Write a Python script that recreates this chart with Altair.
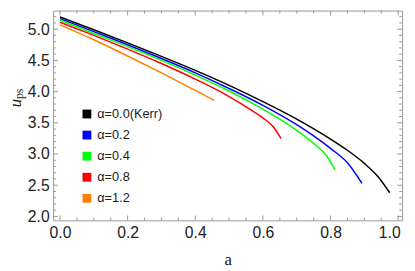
import altair as alt
import pandas as pd

labels = ["α=0.0(Kerr)", "α=0.2", "α=0.4", "α=0.8", "α=1.2"]
colors = ["#000000", "#0000ff", "#00ff00", "#ff0000", "#ff8000"]

a_00 = [0.0, 0.1, 0.2, 0.3, 0.4, 0.5, 0.6, 0.7, 0.8, 0.85, 0.9, 0.94, 0.975]
u_00 = [5.196, 4.99, 4.78, 4.565, 4.34, 4.10, 3.84, 3.56, 3.24, 3.06, 2.85, 2.64, 2.38]

a_02 = [0.0, 0.1, 0.2, 0.3, 0.4, 0.5, 0.6, 0.7, 0.75, 0.8, 0.85, 0.893]
u_02 = [5.17, 4.96, 4.75, 4.53, 4.30, 4.05, 3.78, 3.47, 3.29, 3.09, 2.86, 2.53]

a_04 = [0.0, 0.1, 0.2, 0.3, 0.4, 0.5, 0.6, 0.65, 0.7, 0.75, 0.79, 0.813]
u_04 = [5.145, 4.93, 4.72, 4.50, 4.265, 4.01, 3.72, 3.56, 3.38, 3.17, 2.96, 2.75]

a_08 = [0.0, 0.1, 0.2, 0.3, 0.4, 0.47, 0.5, 0.567, 0.6, 0.63, 0.654]
u_08 = [5.11, 4.90, 4.68, 4.45, 4.20, 4.01, 3.92, 3.70, 3.58, 3.44, 3.245]

a_12 = [0.0, 0.1, 0.2, 0.3, 0.4, 0.456]
u_12 = [5.07, 4.83, 4.57, 4.30, 4.02, 3.86]

x_major = [0.0, 0.2, 0.4, 0.6, 0.8, 1.0]
x_minor = [0.05, 0.1, 0.15, 0.25, 0.3, 0.35, 0.45, 0.5,
           0.55, 0.65, 0.7, 0.75, 0.85, 0.9, 0.95]
y_major = [2.0, 2.5, 3.0, 3.5, 4.0, 4.5, 5.0]
y_minor = [2.1, 2.2, 2.3, 2.4, 2.6, 2.7, 2.8, 2.9, 3.1, 3.2,
           3.3, 3.4, 3.6, 3.7, 3.8, 3.9, 4.1, 4.2, 4.3, 4.4,
           4.6, 4.7, 4.8, 4.9, 5.1, 5.2]

series = [(labels[0], a_00, u_00), (labels[1], a_02, u_02), (labels[2], a_04, u_04),
          (labels[3], a_08, u_08), (labels[4], a_12, u_12)]
rows = []
for lab, aa, uu in series:
    for i, (a, u) in enumerate(zip(aa, uu)):
        rows.append({"label": lab, "a": a, "u": u, "i": i})
df = pd.DataFrame(rows)

W, H = 356, 214
xs = alt.Scale(domain=[-0.0203, 1.0116], nice=False, zero=False)
ys = alt.Scale(domain=[1.937, 5.298], nice=False, zero=False)
cs = alt.Scale(domain=labels, range=colors)
FRAME = "#999999"
TXT = "#222222"

lines = alt.Chart(df).mark_line(strokeWidth=1.5, interpolate="monotone").encode(
    x=alt.X("a:Q", scale=xs, axis=alt.Axis(
        orient="bottom", values=x_major, format=".1f", ticks=False, tickSize=0,
        domain=False, grid=False, labelPadding=4, labelFontSize=16,
        labelFont="Liberation Sans", labelColor=TXT, labelFlush=5,
        labelFlushOffset=2,
        title="a", titleFont="Liberation Serif", titleFontSize=17,
        titleFontWeight="normal", titleColor=TXT, titleX=178, titleY=45,
        titleBaseline="alphabetic")),
    y=alt.Y("u:Q", scale=ys, axis=alt.Axis(
        orient="left", values=y_major, format=".1f", ticks=False, tickSize=0,
        domain=False, grid=False, labelPadding=4, labelFontSize=16,
        labelFont="Liberation Sans", labelColor=TXT, labelFlush=False,
        title="u", titleFont="Liberation Serif", titleFontSize=17,
        titleFontStyle="italic", titleFontWeight="normal", titleColor=TXT,
        titleX=-33, titleY=94, titleAngle=-90, titleBaseline="alphabetic",
        titleAlign="center")),
    color=alt.Color("label:N", scale=cs, legend=None),
    order="i:Q",
)

xmaj_df = pd.DataFrame({"v": x_major})
xmin_df = pd.DataFrame({"v": x_minor})
ymaj_df = pd.DataFrame({"v": y_major})
ymin_df = pd.DataFrame({"v": y_minor})


def xticks(d, ln):
    bottom = alt.Chart(d).mark_rule(color=FRAME, strokeWidth=1).encode(
        x=alt.X("v:Q", scale=xs, axis=None),
        y=alt.value(H), y2=alt.value(H - ln))
    top = alt.Chart(d).mark_rule(color=FRAME, strokeWidth=1).encode(
        x=alt.X("v:Q", scale=xs, axis=None),
        y=alt.value(0), y2=alt.value(ln))
    return [bottom, top]


def yticks(d, ln):
    left = alt.Chart(d).mark_rule(color=FRAME, strokeWidth=1).encode(
        y=alt.Y("v:Q", scale=ys, axis=None),
        x=alt.value(0), x2=alt.value(ln))
    right = alt.Chart(d).mark_rule(color=FRAME, strokeWidth=1).encode(
        y=alt.Y("v:Q", scale=ys, axis=None),
        x=alt.value(W), x2=alt.value(W - ln))
    return [left, right]


tick_layers = (xticks(xmaj_df, 5) + xticks(xmin_df, 3)
               + yticks(ymaj_df, 5) + yticks(ymin_df, 3))

sub = alt.Chart(pd.DataFrame({"t": ["ps"]})).mark_text(
    angle=270, font="Liberation Serif", fontSize=12, color=TXT,
    align="center", baseline="alphabetic").encode(
    text="t:N", x=alt.value(-30.5), y=alt.value(85))

legend_layer = alt.Chart(df).mark_square(filled=True, size=81, opacity=1).encode(
    x=alt.X("a:Q", scale=xs, axis=None),
    y=alt.Y("u:Q", scale=ys, axis=None),
    color=alt.Color("label:N", scale=cs, legend=alt.Legend(
        title=None, orient="none", legendX=28, legendY=99,
        symbolType="square", symbolSize=81, symbolOpacity=1,
        symbolStrokeWidth=0, labelFont="Liberation Sans", labelFontSize=13,
        labelColor=TXT, rowPadding=7.5, padding=0, labelOffset=4)),
).transform_filter("datum.a > 100")

chart = alt.layer(lines, *tick_layers, sub, legend_layer).resolve_scale(
    color="independent"
).resolve_legend(color="independent").resolve_axis(
    x="independent", y="independent"
).properties(
    width=W, height=H, autosize="none",
    padding={"left": 46, "top": 0, "right": 5, "bottom": 48},
).configure_view(stroke=FRAME, strokeWidth=1)

chart.save("out.html", embed_options={"renderer": "svg", "actions": False})
